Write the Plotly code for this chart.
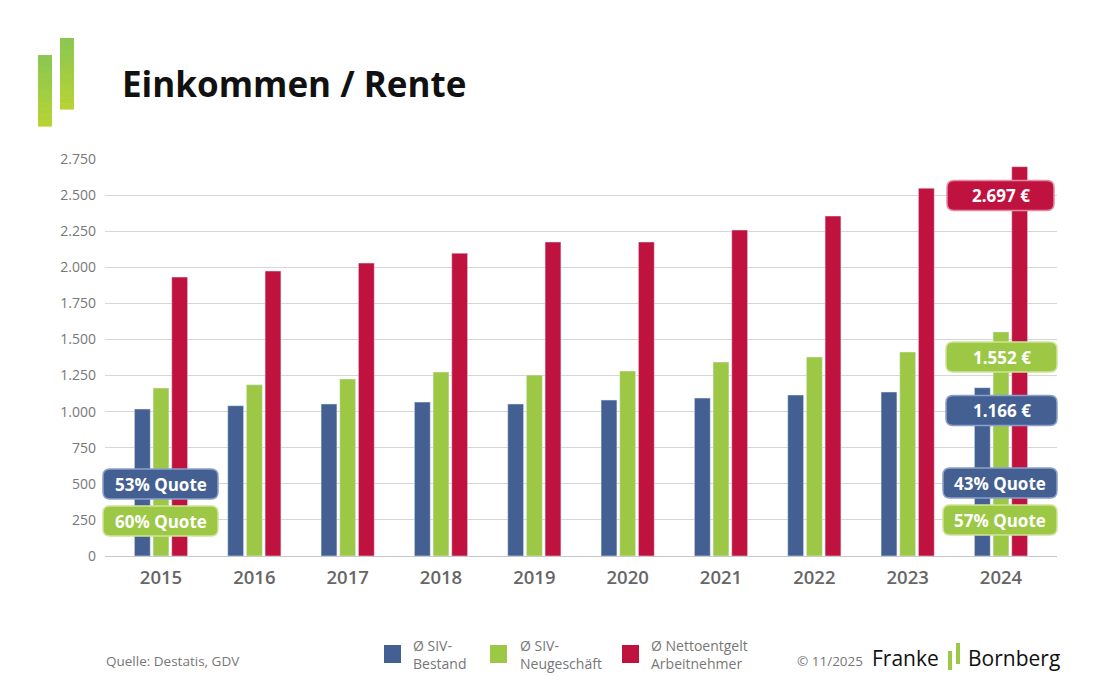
import plotly.graph_objects as go

years = ["2015", "2016", "2017", "2018", "2019", "2020", "2021", "2022", "2023", "2024"]
siv_bestand = [1018, 1041, 1053, 1066, 1053, 1080, 1094, 1115, 1136, 1166]
siv_neu = [1163, 1186, 1226, 1274, 1253, 1281, 1343, 1378, 1413, 1552]
netto = [1932, 1974, 2029, 2098, 2175, 2175, 2258, 2355, 2548, 2697]
y_ticks = [0, 250, 500, 750, 1000, 1250, 1500, 1750, 2000, 2250, 2500, 2750]
y_tick_text = ["0", "250", "500", "750", "1.000", "1.250", "1.500", "1.750", "2.000", "2.250", "2.500", "2.750"]

BLUE = "#446092"
GREEN = "#9cc845"
RED = "#c0123f"
FONT = "Open Sans"

W, H = 1100, 688
OFF = 8  # page body margin
L, R, T, B = 105, 1057, 159, 556


def px(x):
    return (x - L) / (R - L)


def py(y):
    return (B - y) / (B - T)


fig = go.Figure()
fig.add_bar(x=years, y=siv_bestand, marker_color=BLUE, name="Ø SIV-Bestand", hoverinfo="y")
fig.add_bar(x=years, y=siv_neu, marker_color=GREEN, name="Ø SIV-Neugeschäft", hoverinfo="y")
fig.add_bar(x=years, y=netto, marker_color=RED, name="Ø Nettoentgelt Arbeitnehmer", hoverinfo="y")

shapes = []
annotations = []


def rrect(x0, y0, x1, y1, r, fill, line):
    X0, X1 = px(x0), px(x1)
    Y0, Y1 = py(y0), py(y1)
    rx = r / (R - L)
    ry = r / (B - T)
    path = (
        f"M {X0 + rx},{Y0} L {X1 - rx},{Y0} Q {X1},{Y0} {X1},{Y0 - ry} "
        f"L {X1},{Y1 + ry} Q {X1},{Y1} {X1 - rx},{Y1} "
        f"L {X0 + rx},{Y1} Q {X0},{Y1} {X0},{Y1 + ry} "
        f"L {X0},{Y0 - ry} Q {X0},{Y0} {X0 + rx},{Y0} Z"
    )
    shapes.append(dict(type="path", xref="paper", yref="paper", path=path,
                       fillcolor=fill, line=dict(color=line, width=1.5), layer="above"))


def label_box(x0, x1, yc, text, fill, line, h=30):
    rrect(x0, yc - h / 2, x1, yc + h / 2, 7, fill, line)
    annotations.append(dict(xref="paper", yref="paper", x=px((x0 + x1) / 2), y=py(yc),
                            text=f"<b>{text}</b>", showarrow=False,
                            font=dict(family=FONT, size=17, color="white"),
                            xanchor="center", yanchor="middle"))


label_box(103, 218, 484, "53% Quote", BLUE, "#8aa0c8")
label_box(103, 218, 521, "60% Quote", GREEN, "#cfe39a")
label_box(943, 1057, 483, "43% Quote", BLUE, "#8aa0c8")
label_box(943, 1057, 520, "57% Quote", GREEN, "#cfe39a")
label_box(946, 1057, 410.5, "1.166 €", BLUE, "#8aa0c8")
label_box(946, 1057, 357, "1.552 €", GREEN, "#cfe39a")
label_box(947, 1054, 195.5, "2.697 €", RED, "#e58aa2")


def grad_bar(x0, x1, y0, y1, c_top, c_bot, n=12):
    def hx(c):
        return tuple(int(c[i:i + 2], 16) for i in (1, 3, 5))
    a, b = hx(c_top), hx(c_bot)
    for i in range(n):
        t = i / (n - 1)
        col = "rgb(%d,%d,%d)" % tuple(round(a[k] + (b[k] - a[k]) * t) for k in range(3))
        ya = y0 + (y1 - y0) * i / n
        yb = y0 + (y1 - y0) * (i + 1) / n
        shapes.append(dict(type="rect", xref="paper", yref="paper",
                           x0=px(x0), x1=px(x1), y0=py(ya), y1=py(yb + 0.6),
                           fillcolor=col, line=dict(width=0), layer="above"))


grad_bar(38, 52, 55, 126, "#8cc751", "#b5d334")
grad_bar(60, 74, 38, 109, "#8cc751", "#b5d334")

annotations.append(dict(xref="paper", yref="paper", x=px(120), y=py(83),
                        text="<b>Einkommen / Rente</b>", showarrow=False,
                        font=dict(family=FONT, size=35, color="#111111"),
                        xanchor="left", yanchor="middle"))

leg = [(384, 411, BLUE, "Ø SIV-<br>Bestand"),
       (490, 518, GREEN, "Ø SIV-<br>Neugeschäft"),
       (622, 649, RED, "Ø Nettoentgelt<br>Arbeitnehmer")]
for sx, tx, col, txt in leg:
    shapes.append(dict(type="rect", xref="paper", yref="paper",
                       x0=px(sx), x1=px(sx + 17), y0=py(645), y1=py(663),
                       fillcolor=col, line=dict(width=0)))
    annotations.append(dict(xref="paper", yref="paper", x=px(tx), y=py(654),
                            text=txt, showarrow=False, align="left",
                            font=dict(family=FONT, size=14, color="#777777"),
                            xanchor="left", yanchor="middle"))

annotations.append(dict(xref="paper", yref="paper", x=px(104), y=py(661),
                        text="Quelle: Destatis, GDV", showarrow=False,
                        font=dict(family=FONT, size=13.5, color="#777777"),
                        xanchor="left", yanchor="middle"))
annotations.append(dict(xref="paper", yref="paper", x=px(795), y=py(661),
                        text="© 11/2025", showarrow=False,
                        font=dict(family=FONT, size=13.5, color="#777777"),
                        xanchor="left", yanchor="middle"))
annotations.append(dict(xref="paper", yref="paper", x=px(941), y=py(658),
                        text="Franke", showarrow=False,
                        font=dict(family=FONT, size=21, color="#111111"),
                        xanchor="right", yanchor="middle"))
annotations.append(dict(xref="paper", yref="paper", x=px(966), y=py(658),
                        text="Bornberg", showarrow=False,
                        font=dict(family=FONT, size=21, color="#111111"),
                        xanchor="left", yanchor="middle"))
shapes.append(dict(type="rect", xref="paper", yref="paper", x0=px(948), x1=px(952),
                   y0=py(651), y1=py(670), fillcolor="#9cc845", line=dict(width=0)))
shapes.append(dict(type="rect", xref="paper", yref="paper", x0=px(956), x1=px(960),
                   y0=py(643), y1=py(664), fillcolor="#9cc845", line=dict(width=0)))

fig.update_layout(
    width=W, height=H,
    margin=dict(l=L - OFF, r=W - (R - OFF), t=T - OFF, b=H - (B - OFF), pad=0),
    paper_bgcolor="white", plot_bgcolor="white",
    barmode="group", bargap=0.4, bargroupgap=0.15,
    showlegend=False,
    font=dict(family=FONT, color="#777777"),
    shapes=shapes, annotations=annotations,
    xaxis=dict(range=[-0.6, 9.6], showgrid=False, showline=False, zeroline=False,
               tickfont=dict(family=FONT, size=18.5, color="#666666", weight=600),
               ticks="", ticklabelstandoff=8),
    yaxis=dict(range=[0, 2750], tickvals=y_ticks, ticktext=y_tick_text,
               showgrid=True, gridcolor="#d6d6d6", gridwidth=1,
               zeroline=True, zerolinecolor="#c8c8c8", zerolinewidth=1,
               showline=False, tickfont=dict(family=FONT, size=14, color="#777777"),
               ticks="", ticklabelstandoff=8),
)

fig.write_html("out.html")
